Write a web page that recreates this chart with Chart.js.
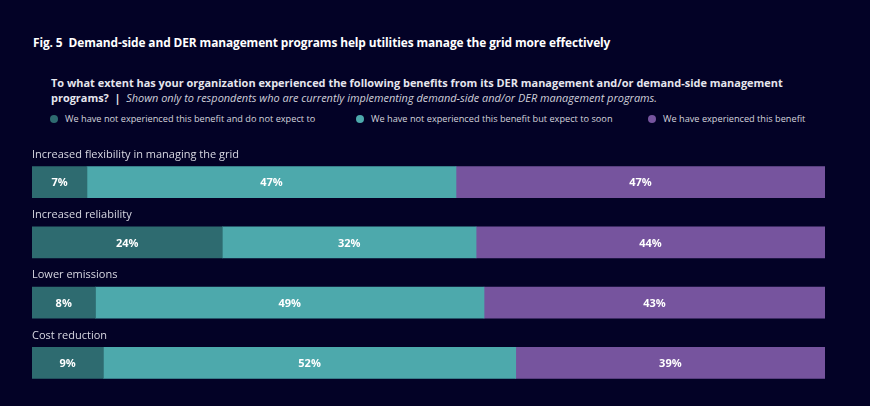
<!DOCTYPE html>
<html>
<head>
<meta charset="utf-8">
<script src="https://cdn.jsdelivr.net/npm/chart.js@4"></script>
<style>
  html, body { margin: 0; padding: 0; }
  body {
    width: 870px; height: 406px; overflow: hidden;
    background: #030226; position: relative;
    font-family: "Open Sans", sans-serif; color: #ffffff;
  }
  .title { position: absolute; left: 33px; top: 34px; font-size: 11.9px; font-weight: 700; letter-spacing: -0.1px; }
  .sub { position: absolute; left: 51px; top: 76px; width: 780px; font-size: 10.95px; font-weight: 700; line-height: 14.5px; color: #e6e6ee; }
  .sub i { font-weight: 400; color: #d0d0da; }
  .legend { position: absolute; top: 112px; font-size: 9.2px; color: #d4d4dc; }
  .legend span { display: inline-block; width: 8px; height: 8px; border-radius: 50%; margin-right: 7px; vertical-align: -1px; }
  #wrap { position: absolute; left: 0; top: 140px; width: 870px; height: 266px; }
</style>
</head>
<body>
<div class="title">Fig. 5&nbsp; Demand-side and DER management programs help utilities manage the grid more effectively</div>
<div class="sub">To what extent has your organization experienced the following benefits from its DER management and/or demand-side management programs? &nbsp;|&nbsp; <i>Shown only to respondents who are currently implementing demand-side and/or DER management programs.</i></div>
<div class="legend" style="left:50px"><span style="background:#2e6b70"></span>We have not experienced this benefit and do not expect to</div>
<div class="legend" style="left:356px"><span style="background:#4da9ac"></span>We have not experienced this benefit but expect to soon</div>
<div class="legend" style="left:648px"><span style="background:#76549e"></span>We have experienced this benefit</div>
<div id="wrap"><canvas id="chart"></canvas></div>
<script>
const categories = ['Increased flexibility in managing the grid', 'Increased reliability', 'Lower emissions', 'Cost reduction'];
const notExpect = [7, 24, 8, 9];
const expectSoon = [47, 32, 49, 52];
const experienced = [47, 44, 43, 39];
const seriesNames = ['We have not experienced this benefit and do not expect to', 'We have not experienced this benefit but expect to soon', 'We have experienced this benefit'];
const colors = ['#2e6b70', '#4da9ac', '#76549e'];

// each row is a 100% bar, so scale every row by its own total
const rowTotals = categories.map((c, i) => notExpect[i] + expectSoon[i] + experienced[i]);
const raw = [notExpect, expectSoon, experienced];

const labelPlugin = {
  id: 'labels',
  afterDatasetsDraw(chart) {
    const ctx = chart.ctx;
    ctx.save();
    ctx.textBaseline = 'middle';
    // category labels above bars
    ctx.font = '11px "Open Sans"';
    ctx.fillStyle = '#d8d8e2';
    ctx.textAlign = 'left';
    const meta0 = chart.getDatasetMeta(0);
    meta0.data.forEach((bar, i) => {
      ctx.fillText(categories[i], chart.chartArea.left, bar.y - bar.height / 2 - 12);
    });
    // values inside segments
    ctx.font = 'bold 11px "Open Sans"';
    ctx.fillStyle = '#ffffff';
    ctx.textAlign = 'center';
    chart.data.datasets.forEach((ds, d) => {
      chart.getDatasetMeta(d).data.forEach((bar, i) => {
        const cx = (bar.x + bar.base) / 2;
        ctx.fillText(raw[d][i] + '%', cx, bar.y + 1);
      });
    });
    ctx.restore();
  }
};

new Chart(document.getElementById('chart'), {
  type: 'bar',
  data: {
    labels: categories,
    datasets: raw.map((vals, d) => ({
      label: seriesNames[d],
      data: vals.map((v, i) => v / rowTotals[i] * 100),
      backgroundColor: colors[d],
      borderWidth: 0,
      barThickness: 31
    }))
  },
  options: {
    indexAxis: 'y',
    responsive: true,
    maintainAspectRatio: false,
    animation: false,
    layout: { padding: { left: 32, right: 45, top: 12, bottom: 13 } },
    plugins: { legend: { display: false }, tooltip: { enabled: false } },
    scales: {
      x: { stacked: true, min: 0, max: 100, display: false },
      y: { stacked: true, display: false }
    }
  },
  plugins: [labelPlugin]
});
</script>
</body>
</html>
